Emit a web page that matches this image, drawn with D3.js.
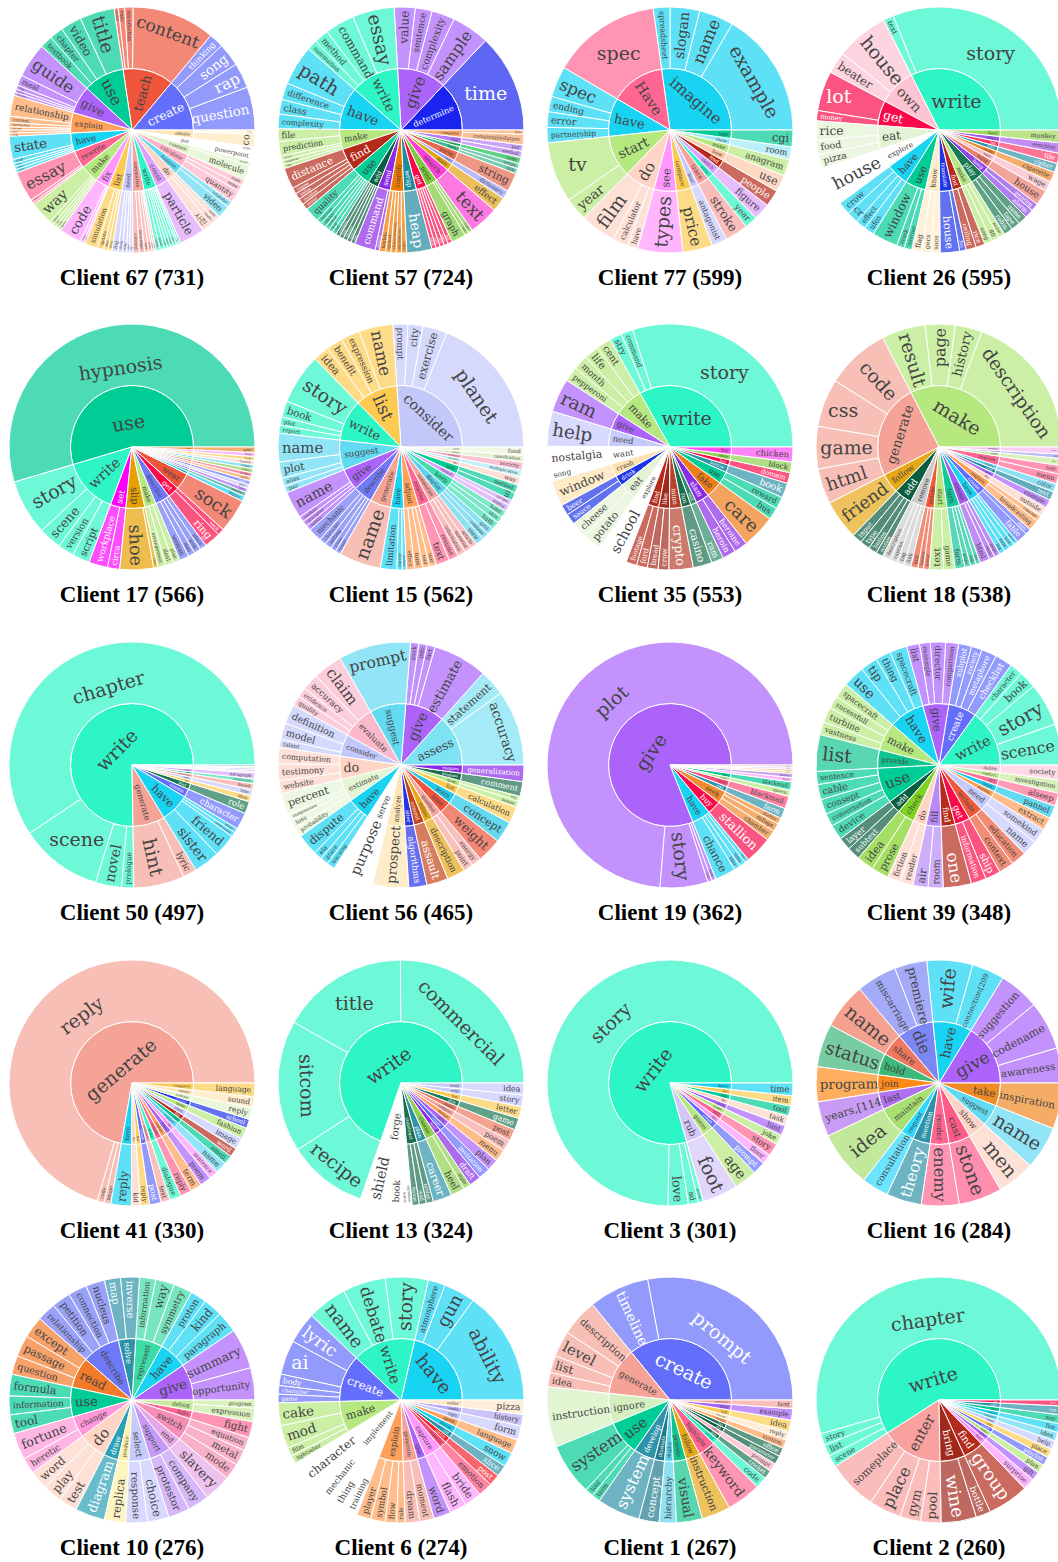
<!DOCTYPE html>
<html><head><meta charset="utf-8">
<script src="https://cdn.jsdelivr.net/npm/d3@7"></script>
<style>body{margin:0;background:#fff}svg{display:block}</style>
</head><body>
<svg id="chart" width="1058" height="1562"></svg>
<script>
// ---------- DATA (verb -> [noun, count, noun, count, ...]) ----------
const clientIds = [67,57,77,26,17,15,35,18,50,56,19,39,41,13,3,16,10,6,1,2];
const clientTotals = [731,724,599,595,566,562,553,538,497,465,362,348,330,324,301,284,276,274,267,260];

const c67 = [
["create",["question",41,"rap",24,"song",22,"thinking",14]],
["teach",["content",79,"introduction",8,"topic",6,"lesson",4]],
["use",["title",33,"video",20,"chapter",13,"textbook",12]],
["give",["guide",33,"meal",10,"tip",4,"plan",3,"example",3]],
["explain",["relationship",20,"context",6,"distribution",4,"concept",3,"idea",3,"term",3]],
["have",["state",22,"stuff",4,"fun",3,"time",3,"idea",3]],
["rewrite",["essay",29,"text",3,"paragraph",2]],
["make",["way",22,"plan",4,"list",3,"joke",3,"game",3]],
["fix",["code",21,"bug",3,"error",2]],
["list",["simulation",12,"update",6,"idea",4,"item",4]],
["need",["fog",6,"thing",4,"help",4,"idea",3,"tip",3]],
["summarize",["content",6,"knowledge",5,"text",4,"video",3,"article",2,"book",2]],
["write",["story",4,"poem",4,"code",3,"essay",3,"song",3,"letter",3,"list",2,"joke",2]],
["count",["particle",24]],
["do",["사진",10,"math",5,"task",5]],
["suggest",["video",12,"youtube",6]],
["calculate",["quantity",12,"area",6,"sum",6]],
["contain",["molecule",14,"word",4]],
["put",["powerpoint",10,"slide",4]],
["emote",["co",12,"emoji",2,"image",2]]
];
const c57 = [
["determine",["time",94]],
["give",["sample",36,"complexity",22,"sentence",16,"value",20]],
["write",["essay",40,"command",28,"method",14,"summation",10]],
["have",["path",38,"difference",16,"class",14,"complexity",14]],
["make",["file",12,"prediction",14,"level",4,"response",4,"list",4]],
["find",["distance",20,"range",6,"value",6,"number",6,"error",6]],
["use",["quality",14,"function",5,"library",5,"method",4,"loop",4,"tool",4]],
["add",["comment",4,"test",4,"feature",4,"button",4,"line",4]],
["send",["command",20,"request",4]],
["simplify",["lambda",6,"method",5,"electrochemistry",5,"explanation",5,"code",5]],
["wrap",["heap",24]],
["get",["value",4,"data",4,"list",4,"input",4,"key",4]],
["print",["graph",14,"list",4,"tree",4]],
["search",["text",28]],
["apply",["effect",14]],
["look",["dictionary",8]],
["parse",["string",18]],
["open",["link",5,"article",5]],
["execute",["code",6]],
["call",["method",6,"put",6]],
["complete",["completablefuture",10,"fire",4]]
];
const c77 = [
["imagine",["example",98,"name",27,"slogan",23,"spreadsheet",13]],
["Have",["spec",85]],
["have",["spec",24,"ending",12,"error",12,"partnership",12]],
["start",["tv",47,"year",18]],
["do",["film",28,"calculator",12,"have",8]],
["see",["types",35]],
["compare",["price",23]],
["bear",["antagonist",12]],
["trace",["stroke",18]],
["write",["year",10]],
["sketch",["figure",13]],
["find",["people",13]],
["bow",["use",13]],
["make",["anagram",13]],
["shape",["room",10]],
["use",["cgi",13]]
];
const c26 = [
["write",["story",184,"text",8]],
["own",["house",41,"beater",17]],
["get",["lot",31,"money",8]],
["eat",["rice",15,"food",11,"pizza",11]],
["explore",["house",30]],
["have",["crow",10,"cr",9,"effect",8,"ufos",8]],
["use",["window",20,"crask",6,"internet",6]],
["know",["flag",8,"gecs",7,"soos",7]],
["translate",["house",15,"fos",5]],
["find",["ceiling",8,"rice",7]],
["make",["song",6,"80",6,"noise",5]],
["play",["robin",7,"tape",7,"game",7]],
["hang",["alarm",7,"painting",6]],
["build",["house",12]],
["earn",["wage",8]],
["smoke",["cigarette",8]],
["solve",["cipher",7]],
["lay",["tile",8]],
["induce",["erection",8]],
["feed",["monkey",10]]
];
const c17 = [
["use",["hypnosis",308]],
["write",["story",41,"scene",17,"version",12,"script",13]],
["set",["workplace",14,"circa",9]],
["slip",["shoe",25,"foot",3]],
["make",["arrangement",6,"deal",6,"plan",5]],
["describe",["woman",7,"man",5,"look",5,"place",5]],
["get",["ring",12,"sock",5]],
["wear",["sock",25]],
["have",["bigger",4]],
["knit",["sweater",3]],
["give",["gift",3]],
["need",["pair",3]],
["create",["outfit",3]],
["explain",["style",3]],
["rewrite",["poem",3]],
["choose",["color",3]],
["suggest",["brand",3]],
["do",["laundry",3]],
["list",["item",3]],
["fix",["hole",3]],
["dry",["pair",4]]
];
const c15 = [
["consider",["planet",106,"exercise",18,"city",11,"prompt",11]],
["list",["name",25,"expression",14,"benefit",12,"idea",12]],
["write",["story",37,"book",12,"plot",6,"report",6]],
["suggest",["name",21,"plot",12,"alias",6,"pair",5]],
["give",["name",20,"cardinal",4,"description",4,"outline",4]],
["describe",["mechanic",10,"character",5,"setting",5,"scene",4,"world",4]],
["generate",["name",31]],
["have",["limitation",12,"barrier",4,"product",3]],
["adjust",["effect",6,"tone",6,"tool",5,"text",5]],
["rewrite",["text",10,"resume",7]],
["summarize",["information",6,"material",5,"article",5]],
["display",["view",6,"content",5,"grid",5]],
["keep",["bath",6,"skin",5,"habit",5]],
["remind",["menu",5,"recipe",4]],
["use",["ui",6,"method",6]],
["do",["way",6]],
["practice",["multiplication",5]],
["improve",["society",6]],
["weigh",["ramification",5]],
["cook",["food",6]]
];
const c35 = [
["write",["story",169,"command",9,"stry",9]],
["make",["cent",11,"life",11,"month",11,"pepperoni",11]],
["give",["ram",25]],
["need",["help",26]],
["want",["nostalgia",18,"song",8]],
["crash",["window",19]],
["drink",["beer",8,"sauce",8]],
["eat",["cheese",12,"potato",14]],
["explore",["school",22]],
["find",["footage",8,"ford",8]],
["like",["bread",8,"crow",8]],
["mine",["crypto",18]],
["run",["casino",14]],
["rent",["ram",9]],
["slam",["heroin",10,"heroine",10]],
["fake",["care",25]],
["use",["bus",9,"reward",9]],
["borrow",["book",11]],
["buy",["domain",8]],
["stack",["block",8]],
["fry",["chicken",11]]
];
const c18 = [
["make",["description",104,"history",19,"page",21,"result",31]],
["generate",["code",45,"css",34,"game",30,"html",25]],
["follow",["friend",28]],
["add",["input",7,"type",7,"button",6,"section",5]],
["remove",["description",6,"caption",5,"tag",5,"link",5]],
["include",["link",5,"header",4,"footer",4]],
["start",["text",10,"game",8]],
["turn",["form",7,"page",4,"list",4,"light",3]],
["extend",["html",7,"class",4,"page",4]],
["have",["list",4,"field",4,"box",4,"menu",3]],
["create",["fable",8,"story",4]],
["explain",["broadcasting",8,"concept",4]],
["do",["outside",7]],
["give",["example",6]],
["wrap",["text",6]],
["display",["color",6]],
["rewrite",["menu",7,"text",6]],
["draft",["art",5]],
["sort",["list",3]],
["beautify",["bea",5]]
];
const c50 = [
["write",["chapter",295,"scene",54,"novel",17,"prologue",8]],
["generate",["hint",33,"lyric",9]],
["have",["sister",17,"friend",15,"relationship",3,"name",3]],
["create",["character",11]],
["play",["role",8]],
["list",["idea",4]],
["need",["line",4]],
["summarize",["mood",4]],
["keep",["interaction",3]],
["remind",["paragraph",4]],
["emote",["song",1]],
["describe",["scene",1]],
["give",["tip",1]],
["make",["list",1]],
["draw",["map",1]]
];
const c56 = [
["assess",["accuracy",46,"statement",16]],
["give",["estimate",33,"fact",5,"info",5,"work",5]],
["suggest",["prompt",44]],
["evaluate",["claim",18,"accuracy",10,"evidence",6,"quality",6]],
["consider",["definition",12,"model",10,"talent",5]],
["do",["computation",10,"testimony",10,"website",8]],
["estimate",["percent",13,"compression",4,"loss",5,"probability",6]],
["have",["dispute",13,"ela",5,"grace",5,"warning",5]],
["serve",["purpose",25]],
["analyze",["prospect",22]],
["alter",["algorithms",11]],
["commit",["assault",13]],
["follow",["description",11]],
["question",["point",6,"energy",6]],
["lose",["weight",15]],
["learn",["concept",13]],
["list",["calculation",10]],
["make",["sense",4,"try",3]],
["propose",["comment",9]],
["require",["generalization",10]]
];
const c19 = [
["give",["plot",269,"story",23,"line",2,"scene",2]],
["have",["chance",10,"idea",3,"time",3,"fun",2]],
["buy",["stallion",13]],
["seek",["chamber",5,"refuge",4,"shelter",3]],
["visit",["farm",5]],
["face",["blackmail",6]],
["crown",["queen",3]],
["use",["blackmail",4]],
["fix",["hair",2]],
["call",["police",2]],
["list",["name",1]],
["explain",["plan",1]],
["need",["help",1]],
["summarize",["story",1]]
];
const c39 = [
["write",["scence",19,"story",20,"book",8,"character",6]],
["create",["checklist",8,"metaphore",7,"society",5,"subplot",6]],
["give",["comparison",6,"director",7,"exsample",5,"list",6]],
["have",["spacecraft",8,"thing",7,"tip",8,"use",10]],
["make",["spacecraft",7,"sucessfull",6,"turbine",7,"vastness",6]],
["provide",["list",17]],
["use",["sentence",6,"cable",7,"consept",7,"conversation",6,"device",7]],
["add",["layer",6,"subtext",6]],
["check",["idea",8,"prose",8]],
["do",["fiction",6,"reader",6]],
["fill",["air",7,"room",7]],
["find",["one",13]],
["get",["information",7,"ship",7]],
["include",["context",7,"education",7]],
["need",["name",7,"somekind",7]],
["explain",["extract",6]],
["learn",["pannel",6]],
["fall",["alseep",6]],
["conduct",["investigation",6]],
["define",["society",7]]
];
const c41 = [
["generate",["reply",236,"code",3,"image",3]],
["have",["reply",9]],
["do",["kid",4]],
["list",["reply",4]],
["create",["post",5]],
["summarize",["text",4]],
["write",["dialogue",5]],
["rewrite",["reply",5]],
["explain",["term",5]],
["give",["poem",5]],
["fix",["sentence",4]],
["suggest",["name",5]],
["use",["emoji",4]],
["find",["word",4]],
["need",["image",5]],
["make",["fashion",5]],
["translate",["school",4]],
["contain",["reply",5]],
["emote",["sound",5]],
["compare",["language",6]]
];
const c13 = [
["write",["commercial",81,"title",54,"sitcom",56,"recipe",34]],
["forge",["shield",12,"book",6,"match",2,"ingredient",2]],
["construct",["house",3,"wall",3,"bridge",3]],
["plan",["career",8]],
["choose",["heel",6,"style",3]],
["send",["draft",5]],
["create",["invitation",5]],
["give",["plan",5]],
["design",["menu",5]],
["compose",["poem",5]],
["share",["post",5]],
["play",["game",5]],
["list",["letter",5]],
["edit",["story",5]],
["need",["idea",5]]
];
const c3 = [
["write",["story",225,"love",8,"ad",4,"poem",2]],
["rub",["foot",14]],
["guess",["age",9]],
["create",["prompt",5]],
["fix",["floor",4]],
["tell",["story",5]],
["make",["joke",4]],
["give",["hint",4]],
["do",["task",4]],
["use",["tool",4]],
["list",["item",4]],
["have",["time",5]]
];
const c16 = [
["give",["awareness",13,"codename",18,"suggestion",15]],
["have",["connection[299",12,"wife",17]],
["die",["premiere",12,"miscarriage",15]],
["share",["name",17]],
["hold",["status",16]],
["join",["program",13]],
["last",["years,[114",13]],
["maintain",["idea",21]],
["request",["consultation",10]],
["mention",["theory",13]],
["render",["enemy",14]],
["cast",["stone",16]],
["show",["men",14]],
["suggest",["name",16]],
["take",["inspiration",17]]
];
const c10 = [
["give",["opportunity",12,"summary",15]],
["have",["paragraph",8,"kind",7,"proton",6]],
["represent",["symmetry",7,"way",7,"information",6]],
["solve",["inverse",7,"map",6]],
["describe",["nucleus",7,"connection",7,"petition",7,"relationship",7]],
["read",["except",8,"passage",8,"question",7]],
["use",["formula",8,"information",7,"tool",7]],
["change",["fortune",10,"heretic",6]],
["do",["word",7,"play",7,"test",7]],
["draw",["diagram",11]],
["produce",["replica",8]],
["select",["response",8,"choice",8]],
["support",["protestor",8,"company",8]],
["end",["slavery",10]],
["switch",["mode",6,"metal",6,"equation",5]],
["fight",["fight",6]],
["debug",["expression",5,"program",3]]
];
const c6 = [
["have",["ability",40,"gun",11,"atmosphere",6]],
["write",["story",15,"debate",15,"name",14]],
["create",["lyric",11,"ai",12,"body",4,"character",3,"game",3]],
["make",["cake",8,"mod",8,"film",3,"lightsaber",3]],
["implement",["character",12,"mechanic",6,"thing",5,"training",5]],
["explain",["player",5,"symbol",5,"flow",4,"rule",3]],
["generate",["dream",5,"moment",5]],
["give",["word",6]],
["capture",["flash",6,"bride",6]],
["express",["emotion",5]],
["publish",["post",4]],
["cut",["slice",4]],
["shovel",["snow",5]],
["speak",["language",5]],
["sign",["form",5]],
["erase",["history",4]],
["order",["pizza",5]]
];
const c1 = [
["create",["prompt",74,"timeline",21]],
["generate",["description",13,"level",9,"list",6,"idea",5]],
["ignore",["instruction",21]],
["use",["system",18,"tool",3,"term",3]],
["develop",["system",15]],
["illustrate",["concept",7]],
["display",["hierarchy",6]],
["provide",["visual",9]],
["follow",["instruction",10]],
["highlight",["keyword",12]],
["write",["code",4]],
["play",["cricket",3]],
["refine",["prompt",3]],
["add",["parameter",3]],
["run",["office",3]],
["design",["system",3]],
["format",["reply",3]],
["list",["idea",4]],
["give",["example",4]],
["summarize",["text",3]]
];
const c2 = [
["write",["chapter",141,"story",4,"list",4,"scene",4]],
["enter",["someplace",17,"place",11,"gym",7,"pool",7]],
["bring",["wine",12,"bottle",5]],
["find",["group",14]],
["feel",["surprise",4]],
["give",["gift",3]],
["make",["plan",3]],
["create",["playlist",3]],
["list",["place",3]],
["need",["help",3]],
["suggest",["idea",3]],
["have",["fun",3]],
["use",["map",3]],
["plan",["trip",3]],
["get",["drink",2]]
];
const clientData = [c67,c57,c77,c26,c17,c15,c35,c18,c50,c56,c19,c39,c41,c13,c3,c16,c10,c6,c1,c2];

// ---------- STYLE ----------
const verbColor = {
create:"#636EFA",teach:"#EF553B",use:"#00CC96",give:"#AB63FA",explain:"#FFA15A",have:"#19D3F3",
rewrite:"#FF6692",make:"#B6E880",fix:"#FF97FF",list:"#FECB52",need:"#C6CAFD",summarize:"#F6A4A0",
write:"#2EF5C6",count:"#DEA0FD",do:"#FED4C4",suggest:"#62DAF2",calculate:"#FFB3C6",contain:"#E0F3C8",
put:"#FFFFFF",emote:"#FEE6B8",determine:"#1A24EE",find:"#B52A1A",add:"#0A5E40",send:"#8C2BE5",
simplify:"#F07A00",wrap:"#1F8A9E",get:"#FA0A4B",print:"#7CCB3C",search:"#FC3FD5",apply:"#E3A514",
look:"#9AA0F8",parse:"#E86A50",open:"#3FB58F",execute:"#1CBE4F",call:"#B57CF7",complete:"#F9A66A",
imagine:"#19D3F3",Have:"#FF6692",start:"#B6E880",see:"#FF97FF",compare:"#FECB52",bear:"#C6CAFD",
trace:"#F8A19F",sketch:"#DEA0FD",bow:"#FDC9A9",shape:"#9EEAF9",own:"#FCC3D2",eat:"#E4F3D6",
explore:"#FFFFFF",know:"#FFEBC7",translate:"#1F35E8",play:"#1A7A55",hang:"#8E48E8",build:"#EE7F6E",
earn:"#F9B8C8",smoke:"#F28A2E",solve:"#2E93A8",lay:"#FB3A6A",induce:"#A65CF0",feed:"#9ED85C",
set:"#FE00FA",slip:"#E6A000",describe:"#6F78F7",wear:"#EF553B",knit:"#2FA88A",choose:"#8ED14F",
dry:"#F28A2E",consider:"#C3C8FA",adjust:"#FFA15A",display:"#5ED3EE",keep:"#3FE0B0",remind:"#D9A6FA",
practice:"#A8ECF7",improve:"#F9A8C0",weigh:"#D8EFC0",cook:"#EEF5D8",want:"#FFFFFF",crash:"#FEE3B0",
drink:"#1F35E8",like:"#A0291C",mine:"#B5412C",run:"#1C6E4F",rent:"#2E8B6A",slam:"#8C2BE5",
fake:"#F07D1A",borrow:"#2E93A8",buy:"#FA0A4B",stack:"#8ED14F",fry:"#FF4DF5",follow:"#E6A817",
include:"#EE5A3A",turn:"#12C79B",extend:"#A35CF0",draft:"#C8EB9E",sort:"#9AA0F8",beautify:"#F5B8F0",
assess:"#7DE3F4",evaluate:"#FBB9CC",estimate:"#E4F5D4",serve:"#FFFFFF",analyze:"#FEE5B5",
alter:"#2533E8",commit:"#C4451C",question:"#F7A6A0",lose:"#EF553B",learn:"#22C8E8",propose:"#1C6E4F",
require:"#8C2BE5",seek:"#F28A2E",visit:"#2E93A8",face:"#FF4D7A",crown:"#B6E880",provide:"#10C48E",
check:"#7ED321",fill:"#B98AF7",fall:"#FF7096",conduct:"#C8EB9E",define:"#FCCDDC",forge:"#FFFFFF",
construct:"#1C7050",plan:"#2E93A8",design:"#FFA15A",compose:"#F6A4A0",share:"#F07860",edit:"#C6CAFD",
rub:"#D4C6F9",guess:"#B6E880",tell:"#FF6692",die:"#7C86F5",hold:"#3CB878",join:"#FF8A1A",
last:"#B070F0",maintain:"#A8E070",request:"#2ED9FF",mention:"#2E93A8",render:"#FF6692",cast:"#FF5C8A",
show:"#FED4C4",take:"#F08A24",represent:"#3DDBA5",read:"#F37A2A",change:"#FF97D8",draw:"#2A9FB5",
produce:"#FDF0A8",select:"#C6CAFD",support:"#C59AF7",end:"#E7A6E6",switch:"#F68FB5",fight:"#FF6692",
debug:"#C8EB9E",implement:"#FFFFFF",capture:"#FF97FF",express:"#FF4D7A",publish:"#F6222E",
cut:"#2E93A8",shovel:"#19D3F3",speak:"#FFA15A",sign:"#C6CAFD",erase:"#B9A9F5",order:"#FDE7C8",
ignore:"#D5F0C0",develop:"#2E93A8",illustrate:"#1F7A8C",highlight:"#FF6692",refine:"#FFB3C6",
format:"#FDE7C8",feel:"#FF97FF",bring:"#A0291C",enter:"#F8A19F",generate:"#F5A397"
};
const colX = [132,401,670,939], rowY = [130,447,765,1083,1400];
const R = 123, FS = 19, LH = 1.2, TEXTPAD = 3, PAGE_W = 1058;
const LABEL_FONT = '"DejaVu Serif", serif';

const svg = d3.select("#chart");
const ctx = document.createElement("canvas").getContext("2d");
ctx.font = '100px ' + LABEL_FONT;
const textW = t => ctx.measureText(t).width / 100;
const leafColor = c => { const k = d3.rgb(c); return d3.rgb(255*0.3 + k.r*0.7, 255*0.3 + k.g*0.7, 255*0.3 + k.b*0.7).formatHex(); };
const isLight = c => { const k = d3.rgb(c); return (k.r*299 + k.g*587 + k.b*114)/1000 >= 128; };

const rScale = d3.scaleLinear().domain([0,1,2]).range([0, R/2, R]);
const arc = d3.arc();
const TAU = Math.PI*2;

function angleDelta(a, b) { let d = ((b - a) % TAU + TAU) % TAU; return d > Math.PI ? d - TAU : d; }
function calcMaxHalfSize(a, halfAngle, r, ring) {
  const q = a + 1/(2*Math.tan(halfAngle));
  return r * Math.min(1/(Math.sqrt(q*q + 0.5) + q), ring/(Math.sqrt(a*a + ring/2) + a));
}
function calcRotate(t) { return (180/Math.PI*t + 720) % 180 - 90; }

// label placement following the inside-text logic of a sunburst ("auto" orientation)
function placeLabel(label, rpx0, rpx1, x0, x1) {
  const w = textW(label)*FS, h = LH*FS;
  const span = x1 - x0;
  const half = 0.5*Math.min(angleDelta(x0, x1) || Math.PI, Math.PI);
  const mid = (x0 + x1)/2;
  const thetaP = Math.PI/2 - mid;
  const ring = 1 - rpx0/rpx1;
  const rIns = (rpx0 === 0 && span >= TAU - 1e-9) ? 1 :
               Math.max(0, Math.min(1/(1 + 1/Math.sin(half)), ring/2));
  const cands = [];
  const hz = {scale: rIns*rpx1*2/Math.hypot(w, h), rc: (1 - rIns)*rpx1, rot: 0};
  let best;
  if (hz.scale >= 1) best = hz;
  else {
    cands.push(hz);
    const rr = Math.max(0, rpx1 - 2*TEXTPAD);
    const rOut = rpx1 - TEXTPAD;
    let a = w/h, s = calcMaxHalfSize(a, half, rr, ring);
    cands.push({scale: 2*s/h, rc: (Math.cos(s/rr) - a*s/rr)*rOut, rot: calcRotate(thetaP)});
    a = h/w; s = calcMaxHalfSize(a, half, rr, ring);
    cands.push({scale: 2*s/w, rc: (Math.cos(s/rr) - a*s/rr)*rOut, rot: calcRotate(thetaP + Math.PI/2)});
    best = cands.reduce((m, c) => (c.scale > m.scale ? c : m), cands[0]);
  }
  const scale = Math.min(1, best.scale);
  return {size: FS*scale, w: w*scale, h: h*scale,
          x: best.rc*Math.cos(mid), y: -best.rc*Math.sin(mid), rot: best.rot};
}

clientData.forEach((data, ci) => {
  const cx = colX[ci % 4], cy = rowY[Math.floor(ci/4)];
  const rootData = {name:"root", children: data.map(([verb, arr]) => {
    const kids = [];
    for (let i = 0; i < arr.length; i += 2) kids.push({name: arr[i], value: arr[i+1]});
    return {name: verb, children: kids};
  })};
  const root = d3.hierarchy(rootData).sum(d => d.value || 0);
  d3.partition().size([TAU, 1])(root);
  const g = svg.append("g").attr("transform", `translate(${cx},${cy})`);
  const nodes = root.descendants().filter(d => d.depth > 0);
  nodes.forEach(d => {
    const verb = d.depth === 1 ? d.data.name : d.parent.data.name;
    const base = verbColor[verb] || "#cccccc";
    d.baseColor = base;
    d.fill = d.depth === 2 ? leafColor(base) : base;
  });
  g.selectAll("path").data(nodes).join("path")
    .attr("d", d => arc({innerRadius: rScale(d.depth-1), outerRadius: rScale(d.depth),
                         startAngle: Math.PI/2 - d.x1, endAngle: Math.PI/2 - d.x0}))
    .attr("fill", d => d.fill)
    .attr("stroke", "#fff").attr("stroke-width", 1);
  nodes.forEach(d => {
    const f = placeLabel(d.data.name, rScale(d.depth-1), rScale(d.depth), d.x0, d.x1);
    let size = f.size;
    // keep the label inside the page on the right edge
    const rad = f.rot*Math.PI/180;
    const hx = (f.w/2)*Math.abs(Math.cos(rad)) + (f.h/2)*Math.abs(Math.sin(rad));
    const room = PAGE_W - 2 - (cx + f.x);
    if (hx > room && room > 0) size *= room/hx;
    if (size < 1.6) return;
    g.append("text")
      .attr("transform", `translate(${f.x.toFixed(2)},${f.y.toFixed(2)}) rotate(${f.rot.toFixed(2)})`)
      .attr("text-anchor", "middle").attr("dy", "0.35em")
      .attr("font-family", LABEL_FONT).attr("font-size", size.toFixed(2))
      .attr("fill", isLight(d.baseColor) ? "#444" : "#fff")
      .text(d.data.name);
  });
  svg.append("text").attr("x", cx).attr("y", cy + 155)
    .attr("text-anchor", "middle").attr("font-family", '"Liberation Serif", serif')
    .attr("font-weight", "bold").attr("font-size", 23).attr("fill", "#000")
    .text(`Client ${clientIds[ci]} (${clientTotals[ci]})`);
});
</script>
</body></html>
